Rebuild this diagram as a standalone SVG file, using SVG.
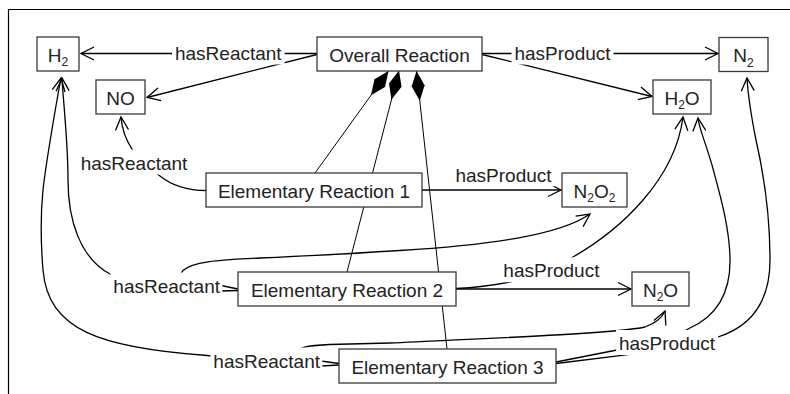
<svg xmlns="http://www.w3.org/2000/svg" width="790" height="394" viewBox="0 0 790 394">
<style>
.frame{fill:none;stroke:#000;stroke-width:1.2}
.e{fill:none;stroke:#000;stroke-width:1.3}
.c{fill:none;stroke:#000;stroke-width:1}
.a{marker-end:url(#arr)}
.d{marker-end:url(#dia)}
.bg{fill:#fff}
.box{fill:#fff;stroke:#3a3a3a;stroke-width:1.3}
text{font-family:"Liberation Sans",Arial,sans-serif;font-size:19px;fill:#222;text-anchor:middle}
.sub{font-size:12px}
</style>
<defs>
<marker id="arr" viewBox="-15 -8 17 16" refX="0" refY="0" markerWidth="17" markerHeight="16" markerUnits="userSpaceOnUse" orient="auto">
<path d="M-13,-6.5 L0,0 L-13,6.5" fill="none" stroke="#000" stroke-width="1.3"/>
</marker>
<marker id="dia" viewBox="-31 -8 32 16" refX="0" refY="0" markerWidth="32" markerHeight="16" markerUnits="userSpaceOnUse" orient="auto">
<path d="M0,0 L-15,-6.5 L-30,0 L-15,6.5 Z" fill="#000"/>
</marker>
</defs>
<path class="frame" d="M8.5,394 L8.5,9.5 L790,9.5"/>
<g id="connectors">
<path class="c d" d="M315,173 L388.5,71"/>
<path class="c d" d="M347,272 L399,70.5"/>
<path class="c d" d="M447,349 L416.5,71"/>
<path class="e a" d="M317,53.5 L81,53.5"/>
<path class="e a" d="M317,54.5 L147,97.5"/>
<path class="e a" d="M482,53.5 L718,53.5"/>
<path class="e a" d="M482,54.5 L652,96.5"/>
<path class="e a" d="M206,190.5 C185,190.5 170,184 160,176 L140,160 L132,149 C126,140 122,130 121,117"/>
<path class="e a" d="M422,190 L561,190"/>
<path class="e a" d="M238,289 L221,285.5 L120,280 L110,274 C80,258 68,220 68,180 C68,140 63,100 62,78"/>
<path class="e a" d="M238,290.5 L221,291 L180,281 C179,277 180,274 183,270.5 C192,262 215,260 260,258 C320,255.5 360,253 400,250.5 C490,245 560,235 590,214"/>
<path class="e a" d="M456,289 L631,289"/>
<path class="e a" d="M456,288.5 C480,287.5 495,285 510,282 L551,270 L573,257 C620,230 675,180 683,117"/>
<path class="e a" d="M339,363.5 L321,361 L260,360 L207,355.5 C100,348 48,330 43,270 C40.5,240 41,210 43,190 C45,170 55,110 61,78"/>
<path class="e a" d="M339,365 L321,366 L298,352 C298,348 305,345.5 330,344.5 L390,343 C500,338 620,333 645,327 C656,323 662,318 665,311"/>
<path class="e a" d="M556,362 L617,350 L660,345 L689,328.5 C720,315 731,290 730,257 C729,225 720,195 712,165 C704,138 699,128 698,118"/>
<path class="e a" d="M556,363.5 L620,355.7 L700,345 L718,337 C752,326 770,300 770,260 C770,215 764,175 756,140 C751,115 748,95 747,78"/>
<g id="lbl-r0"><rect class="bg" x="172" y="39.5" width="112.6" height="25"/><text x="228.3" y="59.5">hasReactant</text></g>
<g id="lbl-p0"><rect class="bg" x="511.5" y="39.5" width="102" height="25"/><text x="562.5" y="59.5">hasProduct</text></g>
<g id="lbl-r1"><rect class="bg" x="77.7" y="149.5" width="112.6" height="25"/><text x="134" y="169.5">hasReactant</text></g>
<g id="lbl-p1"><rect class="bg" x="452.5" y="161.5" width="102" height="25"/><text x="503.5" y="181.5">hasProduct</text></g>
<g id="lbl-r2"><rect class="bg" x="110.4" y="272.5" width="112" height="25"/><text x="166.7" y="292.5">hasReactant</text></g>
<g id="lbl-p2"><rect class="bg" x="500.4" y="257.3" width="102" height="25"/><text x="551.4" y="277.3">hasProduct</text></g>
<g id="lbl-r3"><rect class="bg" x="210.4" y="347.5" width="112" height="25"/><text x="266.7" y="367.5">hasReactant</text></g>
<g id="lbl-p3"><rect class="bg" x="616" y="330" width="102" height="25"/><text x="667" y="350">hasProduct</text></g>
</g>
<g id="n-h2"><rect class="box" x="37" y="37" width="42" height="34"/><text x="58" y="61.5">H<tspan class="sub" dy="4.5">2</tspan></text></g>
<g id="n-no"><rect class="box" x="96" y="80" width="49" height="34"/><text x="120.5" y="104.5">NO</text></g>
<g id="n-overall"><rect class="box" x="317" y="37" width="165" height="34"/><text x="399.5" y="61.5">Overall Reaction</text></g>
<g id="n-n2"><rect class="box" x="719" y="37.5" width="49" height="34"/><text x="743.5" y="62">N<tspan class="sub" dy="4.5">2</tspan></text></g>
<g id="n-h2o"><rect class="box" x="653" y="80" width="58" height="34"/><text x="682" y="104.5">H<tspan class="sub" dy="4.5">2</tspan><tspan dy="-4.5">O</tspan></text></g>
<g id="n-er1"><rect class="box" x="206" y="173" width="216" height="34"/><text x="314" y="197.5">Elementary Reaction 1</text></g>
<g id="n-n2o2"><rect class="box" x="562" y="173" width="65" height="34"/><text x="594.5" y="197.5">N<tspan class="sub" dy="4.5">2</tspan><tspan dy="-4.5">O</tspan><tspan class="sub" dy="4.5">2</tspan></text></g>
<g id="n-er2"><rect class="box" x="238" y="272" width="218" height="34"/><text x="347" y="296.5">Elementary Reaction 2</text></g>
<g id="n-n2o"><rect class="box" x="632" y="272" width="57" height="34"/><text x="660.5" y="296.5">N<tspan class="sub" dy="4.5">2</tspan><tspan dy="-4.5">O</tspan></text></g>
<g id="n-er3"><rect class="box" x="339" y="349" width="217" height="34"/><text x="447.5" y="373.5">Elementary Reaction 3</text></g>
</svg>
